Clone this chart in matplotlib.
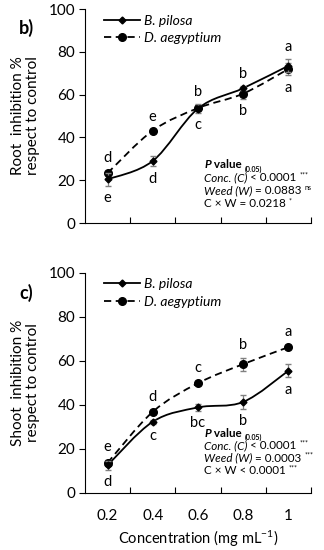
import matplotlib
matplotlib.use("Agg")
import matplotlib.pyplot as plt
from matplotlib.path import Path
from matplotlib.patches import PathPatch
from matplotlib.lines import Line2D
import numpy as np

plt.rcParams['font.family'] = ['Lato', 'DejaVu Sans']
plt.rcParams['mathtext.fontset'] = 'custom'
plt.rcParams['mathtext.rm'] = 'Lato'
plt.rcParams['mathtext.it'] = 'Lato:italic'
plt.rcParams['mathtext.bf'] = 'Lato:bold'

# data
conc = ["0.2", "0.4", "0.6", "0.8", "1"]
species = ["B. pilosa", "D. aegyptium"]

root_bp = [20.4, 29.0, 53.5, 63.0, 73.5]
root_bp_err = [3.0, 2.5, 2.0, 1.0, 3.0]
root_da = [23.3, 43.2, 53.7, 60.5, 72.0]
root_da_err = [1.0, 0.5, 1.5, 2.5, 3.0]
root_bp_let = ["e", "d", "c", "b", "a"]
root_da_let = ["d", "e", "b", "b", "a"]
root_bp_above = [False, False, False, True, True]

shoot_bp = [12.5, 32.3, 38.8, 41.3, 55.5]
shoot_bp_err = [2.0, 1.0, 1.5, 3.0, 3.0]
shoot_da = [13.6, 36.8, 49.8, 58.5, 66.2]
shoot_da_err = [1.5, 1.0, 1.0, 3.0, 1.0]
shoot_bp_let = ["d", "c", "bc", "b", "a"]
shoot_da_let = ["e", "d", "c", "b", "a"]
shoot_bp_above = [False, False, False, False, False]

# each stats line is a list of (text, style, weight, kind) pieces
root_stats = [
    [("P", "italic", "bold", "n"), (" value ", "normal", "bold", "n"), ("(0.05)", "normal", "bold", "sub")],
    [("Conc. (C)", "italic", "normal", "n"), (" < 0.0001 ", "normal", "normal", "n"), ("***", "normal", "normal", "sup")],
    [("Weed (W)", "italic", "normal", "n"), (" = 0.0883 ", "normal", "normal", "n"), ("ns", "normal", "normal", "sup")],
    [("C × W = 0.0218 ", "normal", "normal", "n"), ("*", "normal", "normal", "sup")],
]
shoot_stats = [
    [("P", "italic", "bold", "n"), (" value ", "normal", "bold", "n"), ("(0.05)", "normal", "bold", "sub")],
    [("Conc. (C)", "italic", "normal", "n"), (" < 0.0001 ", "normal", "normal", "n"), ("***", "normal", "normal", "sup")],
    [("Weed (W)", "italic", "normal", "n"), (" = 0.0003 ", "normal", "normal", "n"), ("***", "normal", "normal", "sup")],
    [("C × W < 0.0001 ", "normal", "normal", "n"), ("***", "normal", "normal", "sup")],
]


def smooth_path(x, y):
    """bezier path through the points, like excel smoothed lines"""
    pts = np.column_stack([x, y]).astype(float)
    verts = [pts[0]]
    codes = [Path.MOVETO]
    n = len(pts)
    for i in range(n - 1):
        p0 = pts[i - 1] if i > 0 else pts[i]
        p1 = pts[i]
        p2 = pts[i + 1]
        p3 = pts[i + 2] if i + 2 < n else pts[i + 1]
        c1 = p1 + (p2 - p0) / 6.0
        c2 = p2 - (p3 - p1) / 6.0
        verts += [c1, c2, p2]
        codes += [Path.CURVE4] * 3
    return Path(verts, codes)


def stats_line(ax, x, y, pieces, size=8.4):
    prev = None
    for txt, style, weight, kind in pieces:
        fs = size if kind == "n" else size * 0.6
        dy = 0 if kind == "n" else (3.5 if kind == "sup" else -1.5)
        if prev is None:
            prev = ax.text(x, y, txt, transform=ax.transAxes, fontsize=fs, style=style,
                           fontweight=weight, va="baseline")
        else:
            prev = ax.annotate(txt, xy=(1, 0), xycoords=prev, xytext=(0, dy), textcoords="offset points",
                               fontsize=fs, style=style, fontweight=weight, va="bottom")
            if kind != "n":
                break


def draw_panel(ax, bp, bp_err, da, da_err, bp_let, da_let, bp_above, stats, ylabel, tag, show_x, step):
    x = np.arange(len(conc))
    ax.add_patch(PathPatch(smooth_path(x, da), fill=False, color="black", lw=1.3, ls=(0, (4, 2.5)), zorder=2))
    ax.add_patch(PathPatch(smooth_path(x, bp), fill=False, color="black", lw=1.3, zorder=2))
    ax.errorbar(x, da, yerr=da_err, fmt="o", color="black", ms=5.5, ecolor="#808080",
                elinewidth=0.9, capsize=2.5, zorder=3)
    ax.errorbar(x, bp, yerr=bp_err, fmt="D", color="black", ms=3.5, ecolor="#808080",
                elinewidth=0.9, capsize=2.5, zorder=4)
    for i in range(len(x)):
        if bp_above[i]:
            ax.annotate(bp_let[i], (x[i], bp[i] + bp_err[i]), xytext=(0, 4), textcoords="offset points",
                        ha="center", va="bottom", fontsize=10.5)
            ax.annotate(da_let[i], (x[i], da[i] - da_err[i]), xytext=(0, -4), textcoords="offset points",
                        ha="center", va="top", fontsize=10.5)
        else:
            ax.annotate(da_let[i], (x[i], max(da[i] + da_err[i], bp[i] + bp_err[i])), xytext=(0, 4),
                        textcoords="offset points", ha="center", va="bottom", fontsize=10.5)
            ax.annotate(bp_let[i], (x[i], min(bp[i] - bp_err[i], da[i] - da_err[i])), xytext=(0, -4),
                        textcoords="offset points", ha="center", va="top", fontsize=10.5)
    ax.set_xlim(-0.5, 4.5)
    ax.set_ylim(0, 100)
    ax.set_yticks([0, 20, 40, 60, 80, 100])
    ax.tick_params(axis="y", direction="out", length=4, labelsize=11, pad=3)
    ax.set_xticks([0.5, 1.5, 2.5, 3.5, 4.5])
    ax.set_xticklabels([])
    ax.tick_params(axis="x", which="major", direction="in", length=4)
    if show_x:
        ax.set_xticks(x, minor=True)
        ax.set_xticklabels(conc, minor=True)
        ax.tick_params(axis="x", which="minor", length=0, labelsize=11, pad=12)
    for s in ["top", "right"]:
        ax.spines[s].set_visible(False)
    ax.set_ylabel(ylabel, fontsize=11, labelpad=6, linespacing=1.1)
    ax.text(-0.29, 0.91, tag, transform=ax.transAxes, fontsize=13, fontweight="bold", va="center")
    handles = [Line2D([], [], color="black", marker="D", ms=3.5, lw=1.3),
               Line2D([], [], color="black", marker="o", ms=5.5, lw=1.3, ls=(0, (4, 2.5)))]
    ax.legend(handles, species, loc="upper left", bbox_to_anchor=(0.06, 1.0), frameon=False,
              prop={"style": "italic", "size": 10}, handlelength=2.6, handletextpad=0.3,
              labelspacing=0.4, borderaxespad=0)
    for k, line in enumerate(stats):
        stats_line(ax, 0.527, 0.255 - k * step, line)


fig = plt.figure(figsize=(3.24, 5.5), dpi=100)
ax1 = fig.add_axes([0.262, 0.5945, 0.698, 0.389])
ax2 = fig.add_axes([0.262, 0.104, 0.698, 0.400])

draw_panel(ax1, root_bp, root_bp_err, root_da, root_da_err, root_bp_let, root_da_let, root_bp_above,
           root_stats, "Root  inhibition %\nrespect to control", "b)", False, 0.06)
draw_panel(ax2, shoot_bp, shoot_bp_err, shoot_da, shoot_da_err, shoot_bp_let, shoot_da_let, shoot_bp_above,
           shoot_stats, "Shoot  inhibition %\nrespect to control", "c)", True, 0.057)
ax2.set_xlabel("Concentration (mg mL$^{-1}$)", fontsize=10.5, labelpad=4)

fig.savefig("out.png", dpi=100)
